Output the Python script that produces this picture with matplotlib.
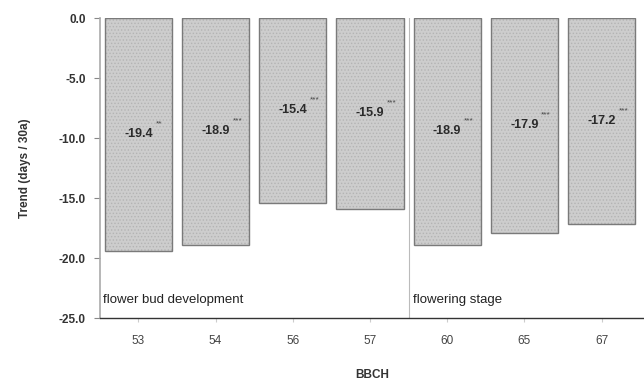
import matplotlib.pyplot as plt
import numpy as np

plt.rcParams['font.family'] = ['Liberation Sans', 'DejaVu Sans']
plt.rcParams['hatch.linewidth'] = 0.6

stages = ['53', '54', '56', '57', '60', '65', '67']
trends = [-19.4, -18.9, -15.4, -15.9, -18.9, -17.9, -17.2]
signif = ['**', '***', '***', '***', '***', '***', '***']
groups = ['flower bud development', 'flowering stage']

x = np.arange(len(stages))

fig = plt.figure(figsize=(6.44, 3.85), dpi=100)
ax = fig.add_axes([0.155, 0.174, 0.845, 0.779])

# hatched fill, then outline on top
ax.bar(x, trends, width=0.87, color='#cdcdcd', edgecolor='#b4b4b4',
       hatch='.....', linewidth=0, zorder=2)
ax.bar(x, trends, width=0.87, fill=False, edgecolor='#7a7a7a',
       linewidth=1.0, zorder=3)

for xi, v, s in zip(x, trends, signif):
    ax.text(xi, v / 2, f'{v:.1f}', ha='center', va='center',
            fontsize=9, fontweight='bold', color='#2a2a2a', zorder=4)
    ax.text(xi + 0.22, v / 2 + 0.6, s, ha='left', va='bottom',
            fontsize=6, color='#444444', zorder=4)

ax.axvline(3.5, color='#bbbbbb', linewidth=0.8, zorder=1)
ax.text(-0.46, -23.5, groups[0], fontsize=9.5, color='#222222', va='center')
ax.text(3.56, -23.5, groups[1], fontsize=9.5, color='#222222', va='center')

ax.set_xlim(-0.5, 6.55)
ax.set_ylim(-25, 0)
ax.set_yticks(np.arange(-25, 0.1, 5))
ax.set_yticklabels([f'{t:.1f}' for t in np.arange(-25, 0.1, 5)],
                   fontweight='bold', fontsize=8.5, color='#333333')
ax.set_xticks(x)
ax.set_xticklabels(stages, fontsize=8.5, color='#444444')
ax.tick_params(axis='y', length=4, color='#888888', pad=6)
ax.tick_params(axis='x', length=3, color='#cccccc', pad=9)

ax.spines['top'].set_visible(False)
ax.spines['right'].set_visible(False)
ax.spines['left'].set_color('#aaaaaa')
ax.spines['left'].set_linewidth(1.2)
ax.spines['bottom'].set_color('#333333')
ax.spines['bottom'].set_linewidth(1.0)

ax.set_ylabel('Trend (days / 30a)', fontweight='bold', fontsize=8.5, color='#333333', labelpad=20)
ax.set_xlabel('BBCH', fontweight='bold', fontsize=8.5, color='#333333', labelpad=16)

fig.savefig('out.png', dpi=100)
